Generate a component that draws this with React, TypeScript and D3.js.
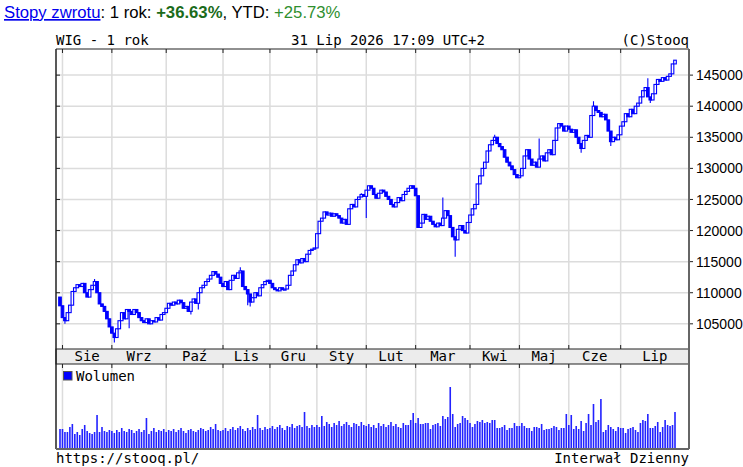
import * as d3 from "d3";

// WIG daily closes, 31 Jul 2025 .. 31 Jul 2026
const firstOpen = 109300;
const closes: number[] = [
  // Jul 31
  107900,
  // Sie
  106000, 105500, 106800, 108000, 110200, 110800, 111300, 111000, 111500, 110000,
  109300, 110500, 111200, 111800, 110000, 108200, 107800, 107000, 105800, 104500,
  // Wrz
  103500, 102800, 104200, 105500, 106800, 105800, 107300, 107000, 106500, 107300, 106800,
  106000, 105500, 105200, 105800, 105000, 105500, 105300, 106000, 105600, 106500, 106800,
  // Paź
  107500, 108300, 108000, 108500, 108200, 108800, 108400, 107500, 107800, 107000, 108500,
  109000, 108300, 110000, 110800, 111200, 111800, 112200, 112800, 113400, 113000, 112500, 111500,
  // Lis
  111000, 111800, 110500, 112000, 112800, 112300, 113200, 113500, 111000, 110500,
  109800, 108500, 109200, 110000, 109500, 110800, 111300, 111800, 112000,
  // Gru
  111500, 110800, 110500, 110300, 110800, 110500, 110600, 111200, 112800, 113500,
  114500, 115300, 114800, 115500, 115000, 116200, 116800, 117000, 117200,
  // Sty
  119500, 121500, 122000, 123000, 122500, 122800, 122300, 122700, 122400, 122000,
  121200, 121800, 121000, 123500, 124200, 123800, 125000, 125400, 125800, 125500,
  // Lut
  126500, 127200, 126800, 125800, 125200, 126000, 126500, 126200, 125500, 125000,
  124200, 123800, 124500, 125300, 124800, 125800, 126300, 126800, 127200, 126800,
  // Mar
  125600, 120500, 121200, 122600, 121800, 122300, 121500, 121000, 120600, 121200, 120800,
  122000, 123200, 122400, 120500, 119000, 118500, 120200, 120800, 120000, 119600, 121300,
  // Kwi
  122500, 123500, 124200, 127500, 128800, 130000, 131000, 132800, 133800, 134500,
  135000, 134000, 133500, 133000, 131800, 131000, 130400, 129800, 129000, 128500,
  // Maj
  128800, 130000, 132000, 133000, 131500, 130500, 131000, 130200, 131500, 132000,
  131200, 132500, 133000, 132200, 134500, 136500, 137200, 136800, 136000, 136800,
  // Cze
  136300, 135800, 136200, 135000, 134000, 133200, 134500, 135300, 135000, 138500, 140000,
  139300, 139000, 138300, 138700, 137800, 136000, 134300, 135000, 134600, 135400,
  // Lip
  136800, 137500, 138800, 138300, 139500, 138800, 140000, 140500, 141500, 142500, 143000, 141500,
  141000, 142000, 143500, 144300, 144000, 144600, 144200, 144800, 145200, 146800, 147400,
];

// notable wicks beyond the body: [day index, value]
const wickLows: [number, number][] = [
  [2, 105000], [22, 102000], [28, 104300], [53, 106500], [56, 107300],
  [76, 108000], [77, 107800], [124, 122000], [160, 115800], [211, 132500],
  [223, 133600], [239, 140500],
];
const wickHighs: [number, number][] = [
  [14, 112200], [73, 114100], [122, 126000], [155, 125300], [176, 135400],
  [194, 134800], [216, 140800], [238, 144500],
];

// daily volume (relative units)
const volumes: number[] = [
  20,
  20, 17, 17, 22, 25, 15, 17, 14, 20, 24, 18, 16, 15, 17, 34, 17, 22, 18, 17, 19,
  18, 16, 19, 17, 21, 18, 17, 20, 19, 16, 18, 20, 17, 19, 31, 15, 18, 21, 17, 19, 18, 20,
  17, 19, 18, 20, 17, 19, 21, 18, 16, 19, 20, 18, 17, 19, 21, 20, 18, 19, 22, 20, 25, 19, 18,
  19, 21, 18, 20, 22, 19, 21, 23, 20, 18, 21, 19, 22, 20, 34, 21, 19, 22, 20,
  21, 23, 20, 22, 24, 21, 19, 23, 22, 25, 21, 23, 24, 22, 37, 23, 21, 24, 22,
  24, 22, 33, 23, 27, 25, 22, 26, 24, 28, 23, 25, 27, 24, 22, 26, 25, 23, 27, 24,
  23, 25, 22, 24, 21, 26, 23, 25, 22, 24, 27, 23, 25, 22, 21, 26, 24, 24, 29, 36,
  26, 31, 25, 25, 26, 26, 20, 24, 25, 26, 23, 33, 30, 32, 62, 35, 22, 25, 26, 33, 31, 29,
  26, 22, 25, 28, 27, 29, 26, 27, 26, 29, 29, 21, 21, 22, 24, 19, 21, 21, 26, 23,
  23, 26, 23, 21, 21, 18, 22, 22, 21, 25, 19, 20, 20, 21, 23, 22, 19, 21, 21, 35,
  24, 34, 20, 23, 20, 28, 18, 26, 35, 24, 45, 27, 29, 50, 17, 19, 24, 22, 20, 18, 22,
  21, 21, 16, 20, 21, 22, 19, 17, 26, 29, 28, 35, 21, 21, 23, 27, 17, 22, 29, 24, 23, 24, 37,
];

const monthNames = ["Sty", "Lut", "Mar", "Kwi", "Maj", "Cze", "Lip", "Sie", "Wrz", "Paź", "Lis", "Gru"];
const priceTicks = [105000, 110000, 115000, 120000, 125000, 130000, 135000, 140000, 145000];
const holidays = [
  "2025-08-15", "2025-11-11", "2025-12-24", "2025-12-25", "2025-12-26", "2025-12-31",
  "2026-01-01", "2026-01-06", "2026-04-03", "2026-04-06", "2026-05-01", "2026-06-04",
];

const fmt = d3.timeFormat("%Y-%m-%d");
const days = d3.timeDay
  .range(new Date(2025, 6, 31), new Date(2026, 7, 1))
  .filter((d) => d.getDay() !== 0 && d.getDay() !== 6 && !holidays.includes(fmt(d)));

const mono = "'DejaVu Sans Mono', monospace";
const sans = "'Liberation Sans', Arial, sans-serif";
const blue = "#0000ff";

export default function App() {
  const left = 56, right = 689, top = 49, mainBottom = 349;
  const bandBottom = 364, volBottom = 449;

  const n = closes.length;
  const x = d3.scaleLinear().domain([0, n - 1]).range([60, 675]);
  const y = d3.scaleLinear().domain([100950, 149200]).range([mainBottom, top]);
  const yv = d3.scaleLinear().domain([0, 84]).range([volBottom, bandBottom + 1]);

  const candles = closes.map((c, i) => {
    const o = i === 0 ? firstOpen : closes[i - 1];
    let hi = Math.max(o, c);
    let lo = Math.min(o, c);
    wickHighs.forEach(([k, v]) => { if (k === i) hi = Math.max(hi, v); });
    wickLows.forEach(([k, v]) => { if (k === i) lo = Math.min(lo, v); });
    return { i, o, c, hi, lo, up: c >= o };
  });

  // first trading day of each month
  const monthStarts: number[] = [];
  days.forEach((d, i) => {
    if (i > 0 && d.getMonth() !== days[i - 1].getMonth()) monthStarts.push(i);
  });
  const gridX = monthStarts.map((i) => x(i));

  return (
    <svg width={743} height={467} style={{ position: "absolute", left: 0, top: 0, background: "#fff" }}>
      {/* header */}
      <text x={4} y={18} fontFamily={sans} fontSize={16.7} fill="#000">
        <tspan fill="#0000ee" textDecoration="underline">Stopy zwrotu</tspan>
        <tspan>: 1 rok: </tspan>
        <tspan fill="#1a6b1a" fontWeight="bold">+36.63%</tspan>
        <tspan>, YTD: </tspan>
        <tspan fill="#2f8f2f">+25.73%</tspan>
      </text>
      <text x={left} y={45} fontFamily={mono} fontSize={14}>WIG - 1 rok</text>
      <text x={388} y={45} fontFamily={mono} fontSize={14} textAnchor="middle">31 Lip 2026 17:09 UTC+2</text>
      <text x={right} y={45} fontFamily={mono} fontSize={14} textAnchor="end">(C)Stooq</text>

      {/* grid */}
      {priceTicks.map((t) => (
        <line key={t} x1={left} x2={right} y1={y(t)} y2={y(t)} stroke="#dcdcdc" strokeWidth={1.5} />
      ))}
      {gridX.map((gx, k) => (
        <g key={k}>
          <line x1={gx} x2={gx} y1={top} y2={mainBottom} stroke="#dcdcdc" strokeWidth={1.5} />
          <line x1={gx} x2={gx} y1={bandBottom} y2={volBottom} stroke="#dcdcdc" strokeWidth={1.5} />
        </g>
      ))}

      {/* candles */}
      {candles.map((d) => {
        const cx = x(d.i);
        const yTop = y(Math.max(d.o, d.c));
        const yBot = y(Math.min(d.o, d.c));
        return (
          <g key={d.i}>
            <line x1={cx} x2={cx} y1={y(d.hi)} y2={y(d.lo)} stroke={blue} strokeWidth={1.1} />
            <rect
              x={cx - 1.3}
              y={yTop}
              width={2.6}
              height={Math.max(yBot - yTop, 1.2)}
              fill={d.up ? "#fff" : blue}
              stroke={blue}
              strokeWidth={1.1}
            />
          </g>
        );
      })}

      {/* volume */}
      {volumes.slice(0, n).map((v, i) => (
        <rect key={i} x={x(i) - 0.8} y={yv(v)} width={1.6} height={volBottom - yv(v)} fill="#2222ff" />
      ))}
      <rect x={63.5} y={371.5} width={8.5} height={8.5} fill={blue} stroke="#555" strokeWidth={1} />
      <text x={76} y={381} fontFamily={mono} fontSize={14}>Wolumen</text>

      {/* month band */}
      <rect x={left} y={mainBottom} width={right - left} height={bandBottom - mainBottom} fill="#ececec" stroke="#222" strokeWidth={1} />
      {monthStarts.map((si, k) => {
        const x0 = x(si);
        const x1 = k < monthStarts.length - 1 ? x(monthStarts[k + 1]) : right;
        return (
          <text key={k} x={(x0 + x1) / 2} y={360.5} fontFamily={mono} fontSize={14} textAnchor="middle">
            {monthNames[days[si].getMonth()]}
          </text>
        );
      })}

      {/* ticks */}
      {gridX.map((gx, k) => (
        <g key={k} stroke="#222" strokeWidth={1}>
          <line x1={gx} x2={gx} y1={top} y2={top + 4} />
          <line x1={gx} x2={gx} y1={mainBottom - 4} y2={mainBottom} />
          <line x1={gx} x2={gx} y1={bandBottom} y2={bandBottom + 4} />
        </g>
      ))}
      {priceTicks.map((t) => (
        <g key={t}>
          <line x1={left} x2={left + 4} y1={y(t)} y2={y(t)} stroke="#222" />
          <line x1={right} x2={right + 4} y1={y(t)} y2={y(t)} stroke="#222" />
          <text x={696} y={y(t)} dy="0.36em" fontFamily={sans} fontSize={14}>{t}</text>
        </g>
      ))}

      {/* frame */}
      <line x1={left} x2={right} y1={top} y2={top} stroke="#222" strokeWidth={1.2} />
      <line x1={left} x2={left} y1={top} y2={volBottom} stroke="#222" strokeWidth={1.5} />
      <line x1={right} x2={right} y1={top} y2={volBottom} stroke="#666" strokeWidth={2} />
      <line x1={left} x2={right} y1={volBottom} y2={volBottom} stroke="#666" strokeWidth={2} />

      {/* footer */}
      <text x={left} y={463} fontFamily={mono} fontSize={14}>https://stooq.pl/</text>
      <text x={right} y={463} fontFamily={mono} fontSize={14} textAnchor="end">Interwał Dzienny</text>
    </svg>
  );
}
